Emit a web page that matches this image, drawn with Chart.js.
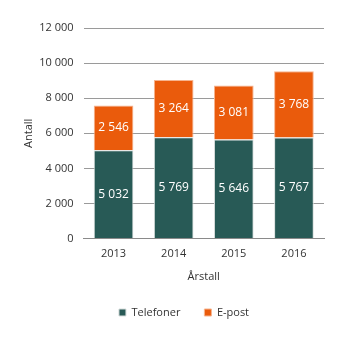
<!DOCTYPE html>
<html>
<head>
<meta charset="utf-8">
<script src="https://cdn.jsdelivr.net/npm/chart.js@4/dist/chart.umd.min.js"></script>
<style>
  html, body { margin: 0; padding: 0; background: #fff; }
  #wrap { width: 346px; height: 341px; }
</style>
</head>
<body>
<div id="wrap"><canvas id="chart"></canvas></div>
<script>
const years = ['2013', '2014', '2015', '2016'];
const telefoner = [5032, 5769, 5646, 5767];
const epost = [2546, 3264, 3081, 3768];

function fmt(v) {
  return v >= 1000 ? Math.floor(v / 1000) + ' ' + String(v % 1000).padStart(3, '0') : String(v);
}

// writes the values inside each bar segment
const barLabels = {
  id: 'barLabels',
  afterDatasetsDraw(chart) {
    const ctx = chart.ctx;
    ctx.save();
    ctx.fillStyle = '#ffffff';
    ctx.font = '12px "Open Sans"';
    ctx.textAlign = 'center';
    ctx.textBaseline = 'middle';
    chart.data.datasets.forEach((ds, i) => {
      chart.getDatasetMeta(i).data.forEach((bar, j) => {
        const mid = (bar.y + bar.base) / 2;
        ctx.fillText(fmt(ds.data[j]), bar.x, mid);
      });
    });
    ctx.restore();
  }
};

// legend sits a bit right of centre in the original
const legendShift = {
  id: 'legendShift',
  afterLayout(chart) {
    chart.legend.left += 13;
    chart.legend.right += 13;
  }
};

new Chart(document.getElementById('chart'), {
  type: 'bar',
  data: {
    labels: years,
    datasets: [
      { label: 'Telefoner', data: telefoner, backgroundColor: '#285a56', borderColor: '#d8dedd', borderWidth: 1 },
      { label: 'E-post', data: epost, backgroundColor: '#ea5b0c', borderColor: '#f6b48f', borderWidth: 1 }
    ]
  },
  options: {
    responsive: true,
    maintainAspectRatio: false,
    animation: false,
    layout: { padding: { left: 18, right: 22, top: 28, bottom: 13 } },
    datasets: { bar: { categoryPercentage: 1, barPercentage: 0.66 } },
    scales: {
      x: {
        stacked: true,
        grid: { display: false },
        border: { color: '#8a8a8a' },
        ticks: { color: '#333', font: { family: 'Open Sans', size: 11 }, padding: 1 },
        title: { display: true, text: 'Årstall', color: '#333', font: { family: 'Open Sans', size: 11 }, padding: { top: 8, bottom: 0 } }
      },
      y: {
        stacked: true,
        min: 0,
        max: 12000,
        ticks: {
          stepSize: 2000,
          color: '#333',
          font: { family: 'Open Sans', size: 11 },
          padding: 10,
          callback: v => fmt(v)
        },
        grid: { color: '#9a9a9a', drawTicks: false },
        border: { display: false },
        title: { display: true, text: 'Antall', color: '#333', font: { family: 'Open Sans', size: 11 }, padding: { top: 4, bottom: -6 } }
      }
    },
    plugins: {
      legend: {
        position: 'bottom',
        labels: { color: '#333', font: { family: 'Open Sans', size: 11 }, boxWidth: 7, boxHeight: 7, padding: 24 }
      },
      tooltip: { enabled: false }
    }
  },
  plugins: [barLabels, legendShift]
});
</script>
</body>
</html>
